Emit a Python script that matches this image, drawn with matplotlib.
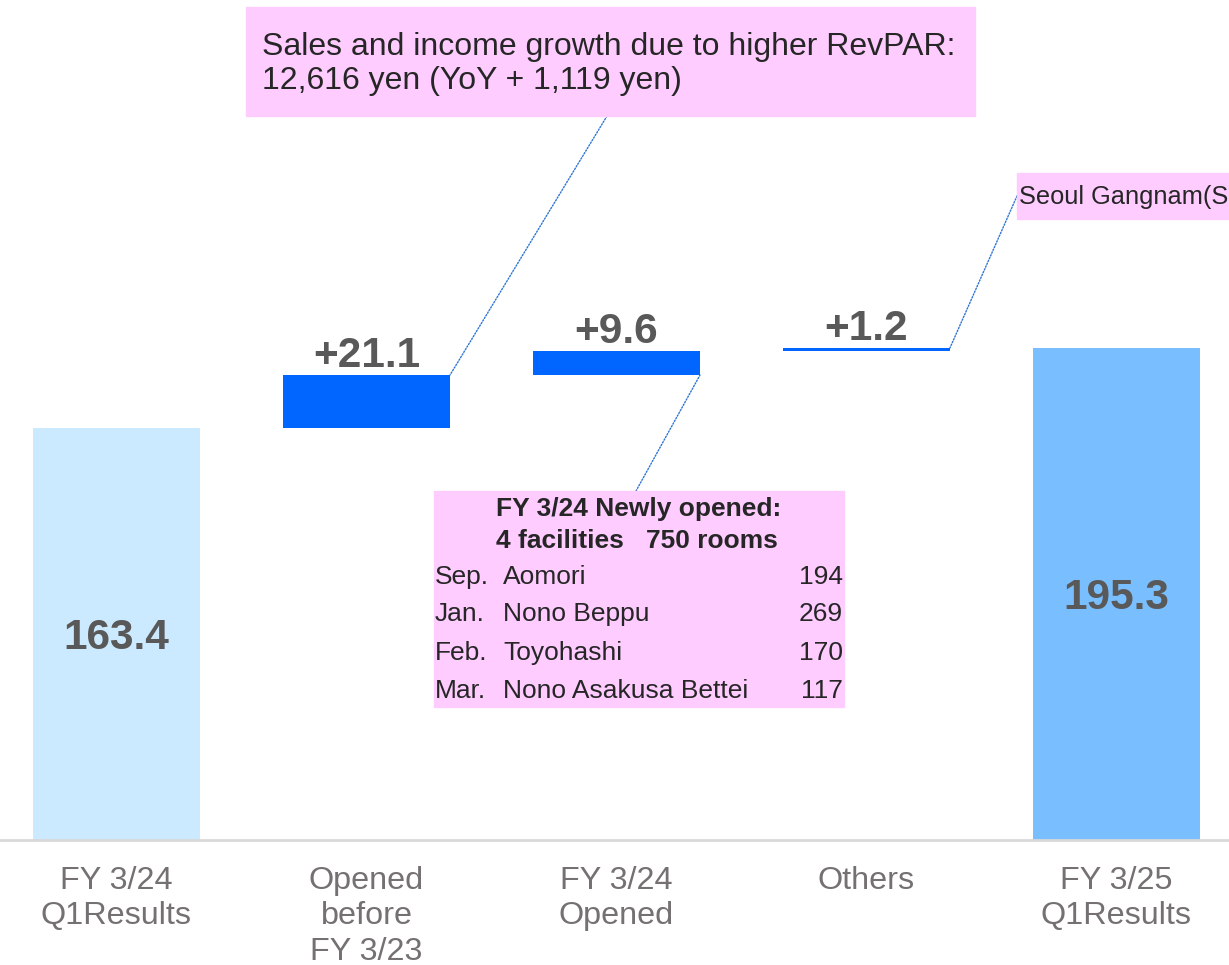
import matplotlib
matplotlib.use('Agg')
import matplotlib.pyplot as plt
from matplotlib.patches import Rectangle
import numpy as np

plt.rcParams['font.family'] = ['Liberation Sans', 'DejaVu Sans']

# data
categories = ['FY 3/24\nQ1Results', 'Opened\nbefore\nFY 3/23', 'FY 3/24\nOpened', 'Others', 'FY 3/25\nQ1Results']
start_total = 163.4
changes = [21.1, 9.6, 1.2]
end_total = 195.3
bar_colors = ['#cceaff', '#0066ff', '#0066ff', '#0066ff', '#79bfff']

months = ['Sep.', 'Jan.', 'Feb.', 'Mar.']
facilities = ['Aomori', 'Nono Beppu', 'Toyohashi', 'Nono Asakusa Bettei']
rooms = [194, 269, 170, 117]

W, H = 1229, 965
fig = plt.figure(figsize=(W / 100, H / 100), dpi=100)
base_px = 840
ax = fig.add_axes([0, (H - base_px) / H, 1, base_px / H])

px_per_unit = 2.52
step = 250
x0 = -116.5 / step
ax.set_xlim(x0, x0 + W / step)
ax.set_ylim(0, base_px / px_per_unit)

# waterfall geometry
heights = [start_total] + changes + [end_total]
bottoms = [0] + list(start_total + np.concatenate([[0], np.cumsum(changes)[:-1]])) + [0]
x = np.arange(len(categories))
width = 167 / step
bars = ax.bar(x, heights, width, bottom=bottoms, color=bar_colors, linewidth=0)

label_color = '#595959'
# totals inside bars
for i in (0, len(x) - 1):
    ax.annotate(f'{heights[i]:.1f}', xy=(x[i], bottoms[i] + heights[i] / 2), xytext=(0, -3),
                textcoords='offset points', ha='center', va='center',
                fontsize=30.5, fontweight='bold', color=label_color)
# changes above bars
for i in range(1, len(x) - 1):
    ax.annotate(f'+{heights[i]:.1f}', xy=(x[i], bottoms[i] + heights[i]), xytext=(0, 5.5),
                textcoords='offset points', ha='center', va='baseline',
                fontsize=30.5, fontweight='bold', color=label_color)

ax.axhline(0, color='#d9d9d9', lw=2, clip_on=False)
ax.set_xticks(x)
ax.set_xticklabels(categories, fontsize=23.3, color='#767171', linespacing=1.22)
ax.tick_params(axis='x', length=0, pad=19)
ax.set_yticks([])
for s in ax.spines.values():
    s.set_visible(False)


def fx(px):
    return px / W


def fy(py):
    return 1 - py / H


pink = '#ffccff'
text_dark = '#262626'
line_kw = dict(arrowstyle='-', color='#2e75d6', lw=1.0, ls=(0, (1, 1.2)), shrinkA=0, shrinkB=0)

# RevPAR note
fig.patches.append(Rectangle((fx(246), fy(116)), fx(975 - 246), (116 - 7) / H,
                             transform=fig.transFigure, color=pink, zorder=1))
fig.text(fx(262), fy(64), 'Sales and income growth due to higher RevPAR:\n12,616 yen (YoY + 1,119 yen)',
         ha='left', va='center', fontsize=23, color=text_dark, linespacing=1.18, zorder=2)
ax.annotate('', xy=(x[1] + width / 2, bottoms[1] + heights[1]), xytext=(fx(607), fy(116)),
            textcoords='figure fraction', arrowprops=line_kw, annotation_clip=False)

# new openings table
fig.patches.append(Rectangle((fx(434), fy(707)), fx(844 - 434), (707 - 491) / H,
                             transform=fig.transFigure, color=pink, zorder=1))
fig.text(fx(496), fy(509), 'FY 3/24 Newly opened:', ha='left', va='center',
         fontsize=19, fontweight='bold', color=text_dark)
fig.text(fx(496), fy(541), f'{len(facilities)} facilities   {sum(rooms)} rooms', ha='left', va='center',
         fontsize=19, fontweight='bold', color=text_dark)
row_y = [577, 614, 653, 691]
for m, n, r, yy in zip(months, facilities, rooms, row_y):
    fig.text(fx(435), fy(yy), m, ha='left', va='center', fontsize=19, color=text_dark)
    fig.text(fx(503), fy(yy), n, ha='left', va='center', fontsize=19, color=text_dark)
    fig.text(fx(843), fy(yy), str(r), ha='right', va='center', fontsize=19, color=text_dark)
ax.annotate('', xy=(x[2] + width / 2, bottoms[2]), xytext=(fx(636), fy(491)),
            textcoords='figure fraction', arrowprops=line_kw, annotation_clip=False)

# Seoul note (runs to the right edge)
fig.patches.append(Rectangle((fx(1017), fy(219)), fx(W - 1017), (219 - 173) / H,
                             transform=fig.transFigure, color=pink, zorder=1))
fig.text(fx(1019), fy(197), 'Seoul Gangnam(S', ha='left', va='center', fontsize=18.3, color=text_dark)
ax.annotate('', xy=(x[3] + width / 2, bottoms[3] + heights[3]), xytext=(fx(1017), fy(196)),
            textcoords='figure fraction', arrowprops=line_kw, annotation_clip=False)

fig.savefig('out.png', dpi=100)
